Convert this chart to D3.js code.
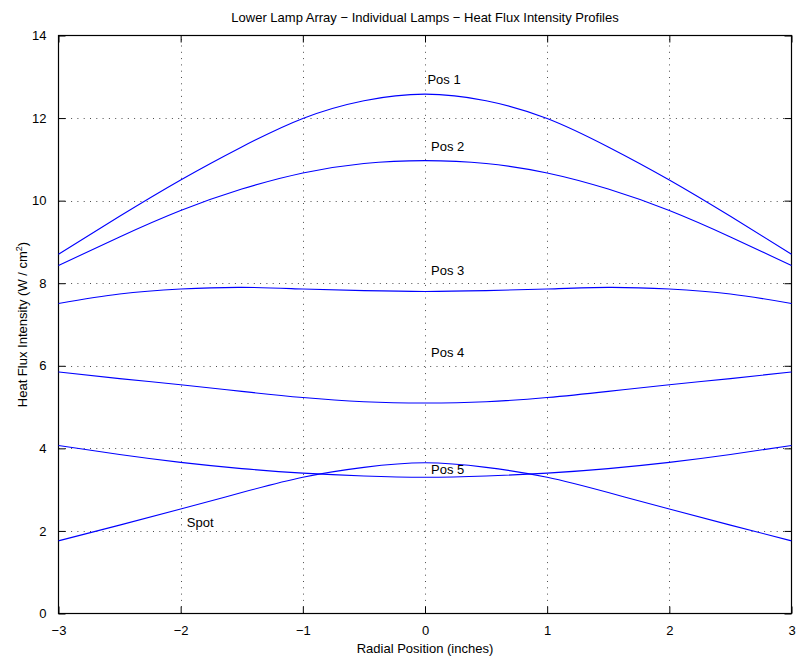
<!DOCTYPE html>
<html>
<head>
<meta charset="utf-8">
<script src="https://cdn.jsdelivr.net/npm/d3@7"></script>
<style>
  body { margin: 0; background: #fff; }
  svg { display: block; font-family: "Liberation Sans", Arial, Helvetica, sans-serif; }
</style>
</head>
<body>
<svg id="chart" width="799" height="666"></svg>
<script>
// ---- data ----
const xPositions = [-3, -2.5, -2, -1.5, -1, -0.5, 0, 0.5, 1, 1.5, 2, 2.5, 3];
const pos1 = [8.70, 9.62, 10.50, 11.30, 11.99, 12.42, 12.58, 12.42, 11.99, 11.30, 10.50, 9.62, 8.70];
const pos2 = [8.43, 9.12, 9.76, 10.28, 10.67, 10.90, 10.97, 10.90, 10.67, 10.28, 9.76, 9.12, 8.43];
const pos3 = [7.51, 7.74, 7.86, 7.90, 7.86, 7.82, 7.80, 7.82, 7.86, 7.90, 7.86, 7.74, 7.51];
const pos4 = [5.85, 5.69, 5.54, 5.38, 5.23, 5.13, 5.10, 5.13, 5.23, 5.38, 5.54, 5.69, 5.85];
const pos5 = [4.07, 3.85, 3.66, 3.51, 3.40, 3.33, 3.30, 3.33, 3.40, 3.51, 3.66, 3.85, 4.07];
const spot = [1.76, 2.14, 2.53, 2.93, 3.30, 3.54, 3.65, 3.54, 3.30, 2.93, 2.53, 2.14, 1.76];
const seriesList = [pos1, pos2, pos3, pos4, pos5, spot];

const labelText = ["Pos 1", "Pos 2", "Pos 3", "Pos 4", "Pos 5", "Spot"];
const labelX = [0.02, 0.05, 0.05, 0.05, 0.05, -1.95];
const labelY = [12.83, 11.20, 8.19, 6.22, 3.38, 2.10];

const xTicks = [-3, -2, -1, 0, 1, 2, 3];
const yTicks = [0, 2, 4, 6, 8, 10, 12, 14];

const titleText = "Lower Lamp Array \u2212 Individual Lamps \u2212 Heat Flux Intensity Profiles";
const xLabelText = "Radial Position (inches)";

// ---- layout ----
const L = 58.5, R = 791.5, T = 35.5, B = 613.5;
const svg = d3.select("#chart");
const x = d3.scaleLinear().domain([-3, 3]).range([L, R]);
const y = d3.scaleLinear().domain([0, 14]).range([B, T]);
const fmt = v => (v < 0 ? "\u2212" + Math.abs(v) : String(v));

svg.append("rect").attr("width", 799).attr("height", 666).attr("fill", "#fff");

// grid
const grid = svg.append("g").attr("stroke", "#000").attr("stroke-width", 1)
  .attr("stroke-dasharray", "1,5.3").attr("opacity", 0.7);
grid.selectAll("line.v").data(xTicks.slice(1, -1)).join("line")
  .attr("x1", d => Math.round(x(d)) + 0.5).attr("x2", d => Math.round(x(d)) + 0.5)
  .attr("y1", B).attr("y2", T);
grid.selectAll("line.h").data(yTicks.slice(1, -1)).join("line")
  .attr("y1", d => Math.round(y(d)) + 0.5).attr("y2", d => Math.round(y(d)) + 0.5)
  .attr("x1", L).attr("x2", R);

// axes (ticks inward)
const tl = 7;
const styleAxis = g => {
  g.select(".domain").remove();
  g.selectAll(".tick line").attr("stroke", "#000");
  g.selectAll(".tick text").attr("fill", "#000").style("font-size", "13px");
};
svg.append("g").attr("transform", `translate(0,${B})`)
  .call(d3.axisBottom(x).tickValues(xTicks).tickFormat(fmt).tickSizeInner(-tl).tickSizeOuter(0).tickPadding(tl + 5))
  .call(styleAxis);
svg.append("g").attr("transform", `translate(0,${T})`)
  .call(d3.axisTop(x).tickValues(xTicks).tickFormat("").tickSizeInner(-tl).tickSizeOuter(0))
  .call(styleAxis);
svg.append("g").attr("transform", `translate(${L},0)`)
  .call(d3.axisLeft(y).tickValues(yTicks).tickFormat(fmt).tickSizeInner(-tl).tickSizeOuter(0).tickPadding(tl + 5))
  .call(styleAxis);
svg.append("g").attr("transform", `translate(${R},0)`)
  .call(d3.axisRight(y).tickValues(yTicks).tickFormat("").tickSizeInner(-tl).tickSizeOuter(0))
  .call(styleAxis);

// box
svg.append("rect").attr("x", L).attr("y", T).attr("width", R - L).attr("height", B - T)
  .attr("fill", "none").attr("stroke", "#000").attr("stroke-width", 1.2);

// lines
const line = d3.line().x((d, i) => x(xPositions[i])).y(d => y(d)).curve(d3.curveNatural);
svg.append("g").selectAll("path").data(seriesList).join("path")
  .attr("d", line).attr("fill", "none").attr("stroke", "#0000ff").attr("stroke-width", 1.1);

// labels
svg.append("g").selectAll("text").data(labelText).join("text")
  .attr("x", (d, i) => x(labelX[i])).attr("y", (d, i) => y(labelY[i]))
  .style("font-size", "13px").attr("fill", "#000").text(d => d);

// title
svg.append("text").attr("x", (L + R) / 2).attr("y", 22).attr("text-anchor", "middle")
  .style("font-size", "13px").text(titleText);

// x label
svg.append("text").attr("x", (L + R) / 2).attr("y", 653).attr("text-anchor", "middle")
  .style("font-size", "13px").text(xLabelText);

// y label
const yl = svg.append("text").attr("transform", `translate(27,${(T + B) / 2}) rotate(-90)`)
  .attr("text-anchor", "middle").style("font-size", "13px");
yl.append("tspan").text("Heat Flux Intensity (W / cm");
yl.append("tspan").attr("dy", -5).style("font-size", "9px").text("2");
yl.append("tspan").attr("dy", 5).text(")");
</script>
</body>
</html>
